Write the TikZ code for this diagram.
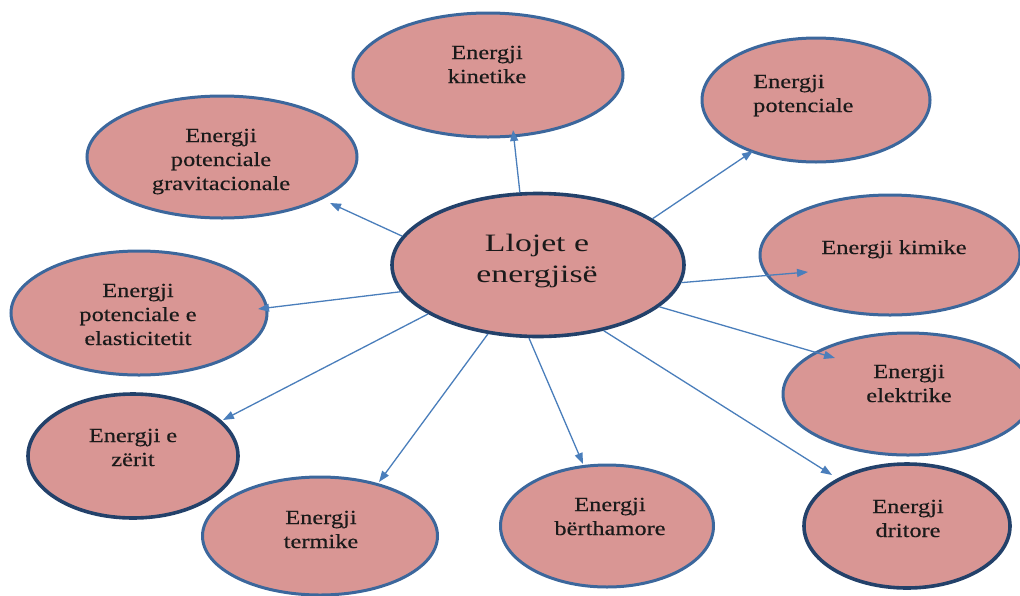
\documentclass[tikz,border=0pt]{standalone}
\usepackage{fontspec}
\setmainfont{Liberation Serif}
\newfontfamily\lblfont{Liberation Serif}[FakeStretch=1.22,FakeBold=0.4]
\newfontfamily\ctrfont{Liberation Serif}[FakeStretch=1.35]
\usetikzlibrary{shapes.geometric,arrows.meta}
\definecolor{fillc}{HTML}{D99694}
\definecolor{bordc}{HTML}{3C679C}
\definecolor{darkb}{HTML}{23416A}
\definecolor{arrc}{HTML}{4A7EBB}
\definecolor{txtc}{HTML}{1A1A1A}
\tikzset{
  bub/.style={ellipse, draw=bordc, line width=3pt, fill=fillc, inner sep=0pt},
  darkbub/.style={bub, draw=darkb, line width=3.6pt},
  lbl/.style={font=\lblfont\fontsize{20}{24}\selectfont, align=center, anchor=base, text=txtc, inner sep=0pt},
  ctrlbl/.style={font=\ctrfont\fontsize{25}{31}\selectfont, align=center, anchor=base, text=txtc, inner sep=0pt},
  arr/.style={draw=arrc, line width=1.3pt, -{Triangle[length=11pt,width=8pt]}}
}
\begin{document}
\begin{tikzpicture}[x=1pt,y=-1pt]
\useasboundingbox (0,0) rectangle (1020,595);
% ellipses
\node[darkbub, minimum width=292, minimum height=143] (c) at (538,265) {};
\node[bub, minimum width=270, minimum height=124] (kin) at (488,75) {};
\node[bub, minimum width=228, minimum height=124] (pot) at (816,100) {};
\node[bub, minimum width=270, minimum height=122] (grav) at (222,157) {};
\node[bub, minimum width=260, minimum height=120] (kim) at (890,255) {};
\node[bub, minimum width=256, minimum height=124] (elast) at (139,313) {};
\node[bub, minimum width=250, minimum height=122] (elek) at (908,394) {};
\node[darkbub, minimum width=210, minimum height=124] (zer) at (133,456) {};
\node[bub, minimum width=235, minimum height=118] (term) at (320,536) {};
\node[bub, minimum width=213, minimum height=122] (berth) at (607,526) {};
\node[darkbub, minimum width=206, minimum height=124] (drit) at (907,526) {};
% labels (base anchor = baseline of the last line)
\node[ctrlbl] (cT) at (537,282) {Llojet e\\energjisë};
\node[lbl] (kinT) at (487,83) {Energji\\kinetike};
\node[lbl, align=left, anchor=base west] (potT) at (753,112) {Energji\\potenciale};
\node[lbl] (gravT) at (221,190) {Energji\\potenciale\\gravitacionale};
\node[lbl] (kimT) at (894,254) {Energji kimike};
\node[lbl] (elastT) at (138,345) {Energji\\potenciale e\\elasticitetit};
\node[lbl] (elekT) at (909,402) {Energji\\elektrike};
\node[lbl] (zerT) at (133,466) {Energji e\\zërit};
\node[lbl] (termT) at (321,548) {Energji\\termike};
\node[lbl] (berthT) at (610,535) {Energji\\bërthamore};
\node[lbl] (dritT) at (908,537) {Energji\\dritore};
% arrow tips
\coordinate (kinP) at (513,130);
\coordinate (potP) at (753,151);
\coordinate (gravP) at (330,203);
\coordinate (kimP) at (808,272);
\coordinate (elastP) at (258,309);
\coordinate (elekP) at (835,358);
\coordinate (zerP) at (223,420);
\coordinate (termP) at (379,482);
\coordinate (berthP) at (583,464);
\coordinate (dritP) at (832,475);
% arrows
\draw[arr] (c.104) -- (kinP);
\draw[arr] (c.22) -- (potP);
\draw[arr] (c.168) -- (gravP);
\draw[arr] (c.-7) -- (kimP);
\draw[arr] (c.191) -- (elastP);
\draw[arr] (c.-19.5) -- (elekP);
\draw[arr] (c.204) -- (zerP);
\draw[arr] (c.234) -- (termP);
\draw[arr] (c.263) -- (berthP);
\draw[arr] (c.-45) -- (dritP);
\end{tikzpicture}
\end{document}
